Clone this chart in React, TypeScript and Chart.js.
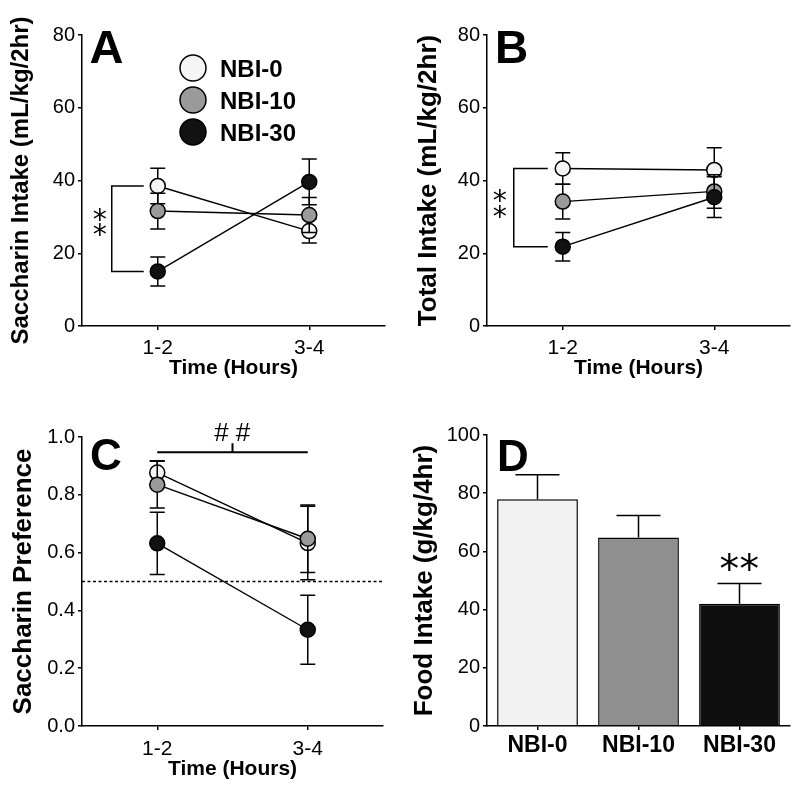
import React, { useEffect, useRef } from "react";
import { Chart, registerables } from "chart.js";

Chart.register(...registerables);

const FONT = "'Liberation Sans', Arial, Helvetica, sans-serif";
const STAR_FONT = "'DejaVu Sans', sans-serif";

// ---- categories / labels ----
const timeLabels = ["1-2", "3-4"];
const groupLabels = ["NBI-0", "NBI-10", "NBI-30"];
const markerFills = ["#f5f5f5", "#9a9a9a", "#121212"];
const barFills = ["#f2f2f2", "#8f8f8f", "#0f0f0f"];

// ---- tick labels ----
const intakeTicks = [0, 20, 40, 60, 80];
const preferenceTicks = [0, 0.2, 0.4, 0.6, 0.8, 1.0];
const foodTicks = [0, 20, 40, 60, 80, 100];

// ---- Panel A: Saccharin intake (mL/kg/2hr) ----
const saccharinNBI0 = [38.5, 26.1];
const saccharinNBI0Sem = [4.9, 3.3];
const saccharinNBI10 = [31.6, 30.5];
const saccharinNBI10Sem = [4.9, 4.8];
const saccharinNBI30 = [15.0, 39.6];
const saccharinNBI30Sem = [4.0, 6.3];

// ---- Panel B: Total intake (mL/kg/2hr) ----
const totalNBI0 = [43.3, 42.9];
const totalNBI0Sem = [4.3, 6.1];
const totalNBI10 = [34.2, 37.0];
const totalNBI10Sem = [4.8, 4.6];
const totalNBI30 = [21.8, 35.4];
const totalNBI30Sem = [3.9, 5.6];

// ---- Panel C: Saccharin preference ----
const prefNBI0 = [0.877, 0.633];
const prefNBI0Sem = [0.041, 0.127];
const prefNBI10 = [0.835, 0.648];
const prefNBI10Sem = [0.081, 0.117];
const prefNBI30 = [0.632, 0.333];
const prefNBI30Sem = [0.108, 0.119];
const chanceLevel = 0.5;
const timeEffectLevel = 0.947;

// ---- Panel D: Food intake (g/kg/4hr) ----
const foodMeans = [77.9, 64.8, 42.0];
const foodSem = [8.4, 7.5, 7.0];

Chart.defaults.color = "#000";
Chart.defaults.font.family = FONT;

const gridStyle = {
  display: true,
  drawOnChartArea: false,
  drawTicks: true,
  tickLength: 4,
  color: "#000",
  lineWidth: 1.5,
};
const borderStyle = { display: true, color: "#000", width: 1.5 };

function drawCentered(ctx: CanvasRenderingContext2D, text: string, font: string, cx: number, cy: number) {
  ctx.save();
  ctx.font = font;
  ctx.textAlign = "left";
  ctx.textBaseline = "alphabetic";
  const m = ctx.measureText(text);
  const w = m.actualBoundingBoxLeft + m.actualBoundingBoxRight;
  const h = m.actualBoundingBoxAscent + m.actualBoundingBoxDescent;
  ctx.fillStyle = "#000";
  ctx.fillText(text, cx - w / 2 + m.actualBoundingBoxLeft, cy - h / 2 + m.actualBoundingBoxAscent);
  ctx.restore();
}

function starFont(ctx: CanvasRenderingContext2D, targetWidth: number) {
  ctx.save();
  ctx.font = `100px ${STAR_FONT}`;
  const m = ctx.measureText("*");
  ctx.restore();
  const w = m.actualBoundingBoxLeft + m.actualBoundingBoxRight || 40;
  return `${(100 * targetWidth) / w}px ${STAR_FONT}`;
}

function drawErrorBars(chart: any, index: number, opts: any) {
  const ds = chart.data.datasets[index];
  const sem = ds.sem;
  if (!sem) return;
  const meta = chart.getDatasetMeta(index);
  const y = chart.scales.y;
  const ctx = chart.ctx;
  ctx.save();
  ctx.strokeStyle = "#000";
  ctx.lineWidth = 1.5;
  meta.data.forEach((el: any, i: number) => {
    const v = ds.data[i];
    const e = sem[i];
    const x = el.x;
    const top = y.getPixelForValue(v + e);
    const bottom = y.getPixelForValue(opts.upOnly ? v : v - e);
    ctx.beginPath();
    ctx.moveTo(x, top);
    ctx.lineTo(x, bottom);
    ctx.moveTo(x - opts.cap, top);
    ctx.lineTo(x + opts.cap, top);
    if (!opts.upOnly) {
      ctx.moveTo(x - opts.cap, bottom);
      ctx.lineTo(x + opts.cap, bottom);
    }
    ctx.stroke();
  });
  ctx.restore();
}

const errorBarPlugin = {
  id: "errorBars",
  beforeDatasetDraw(chart: any, args: any, opts: any) {
    if (!opts.upOnly) drawErrorBars(chart, args.index, opts);
  },
  afterDatasetDraw(chart: any, args: any, opts: any) {
    if (opts.upOnly) drawErrorBars(chart, args.index, opts);
  },
};

function lineDatasets(means: number[][], sems: number[][]) {
  return groupLabels.map((label, g) => ({
    label,
    data: means[g],
    sem: sems[g],
    borderColor: "#000",
    borderWidth: 1.4,
    backgroundColor: markerFills[g],
    pointBackgroundColor: markerFills[g],
    pointBorderColor: "#000",
    pointBorderWidth: 1.5,
    pointRadius: 7.5,
    pointHoverRadius: 7.5,
    tension: 0,
    fill: false,
    order: groupLabels.length - g,
  }));
}

function yScale(ticks: number[], title: string, titleSize: number, titlePad: number, width: number, decimals: number) {
  return {
    type: "linear",
    min: ticks[0],
    max: ticks[ticks.length - 1],
    afterBuildTicks: (s: any) => {
      s.ticks = ticks.map((value) => ({ value }));
    },
    afterFit: (s: any) => {
      s.width = width;
    },
    grid: gridStyle,
    border: borderStyle,
    ticks: {
      color: "#000",
      font: { family: FONT, size: 20 },
      padding: 3,
      callback: (v: any) => Number(v).toFixed(decimals),
    },
    title: {
      display: true,
      text: title,
      color: "#000",
      font: { family: FONT, size: titleSize, weight: "bold" },
      padding: { top: titlePad, bottom: 0 },
    },
  };
}

function xTimeScale(height: number, labelPad: number, titlePadBottom: number) {
  return {
    type: "category",
    offset: true,
    afterFit: (s: any) => {
      s.height = height;
    },
    grid: { ...gridStyle, offset: false },
    border: borderStyle,
    ticks: { color: "#000", font: { family: FONT, size: 21 }, padding: labelPad },
    title: {
      display: true,
      text: "Time (Hours)",
      color: "#000",
      font: { family: FONT, size: 21, weight: "bold" },
      padding: { top: 0, bottom: titlePadBottom },
    },
  };
}

function bracket(ctx: CanvasRenderingContext2D, xv: number, xEnd: number, y1: number, y2: number) {
  ctx.save();
  ctx.strokeStyle = "#000";
  ctx.lineWidth = 1.5;
  ctx.beginPath();
  ctx.moveTo(xEnd, y1);
  ctx.lineTo(xv, y1);
  ctx.lineTo(xv, y2);
  ctx.lineTo(xEnd, y2);
  ctx.stroke();
  ctx.restore();
}

function stackedStars(ctx: CanvasRenderingContext2D, x: number, yc: number, size: number, gap: number) {
  const f = starFont(ctx, size);
  drawCentered(ctx, "*", f, x, yc - gap / 2);
  drawCentered(ctx, "*", f, x, yc + gap / 2);
}

const baseOptions = (padding: any) => ({
  responsive: false,
  animation: false,
  devicePixelRatio: 1,
  layout: { padding },
  events: [],
});

function configA() {
  const annot = {
    id: "annotA",
    afterDatasetsDraw(chart: any) {
      const ctx = chart.ctx;
      const x = chart.scales.x;
      const y = chart.scales.y;
      drawCentered(ctx, "A", `bold 47px ${FONT}`, 106.5, 46.5);
      const cx = x.getPixelForValue(0);
      const yTop = y.getPixelForValue(saccharinNBI0[0]);
      const yBot = y.getPixelForValue(saccharinNBI30[0]);
      bracket(ctx, cx - 46, cx - 14, yTop, yBot);
      stackedStars(ctx, cx - 58, (yTop + yBot) / 2 - 6, 13, 14.5);
      // legend
      const lx = chart.chartArea.left + 111;
      const ly = chart.chartArea.top + 33;
      chart.data.datasets.forEach((ds: any, i: number) => {
        const cy = ly + i * 32;
        ctx.save();
        ctx.beginPath();
        ctx.arc(lx, cy, 13, 0, Math.PI * 2);
        ctx.fillStyle = ds.backgroundColor;
        ctx.fill();
        ctx.lineWidth = 1.5;
        ctx.strokeStyle = "#000";
        ctx.stroke();
        ctx.font = `bold 24px ${FONT}`;
        ctx.fillStyle = "#000";
        ctx.textBaseline = "alphabetic";
        ctx.textAlign = "left";
        ctx.fillText(ds.label, lx + 27, cy + 8.6);
        ctx.restore();
      });
    },
  };
  return {
    type: "line",
    data: {
      labels: timeLabels,
      datasets: lineDatasets(
        [saccharinNBI0, saccharinNBI10, saccharinNBI30],
        [saccharinNBI0Sem, saccharinNBI10Sem, saccharinNBI30Sem]
      ),
    },
    options: {
      ...baseOptions({ top: 35, right: 15, left: 0, bottom: 0 }),
      plugins: { legend: { display: false }, tooltip: { enabled: false }, errorBars: { cap: 7.5, upOnly: false } },
      scales: {
        x: xTimeScale(74, 6, 19),
        y: yScale(intakeTicks, "Saccharin Intake (mL/kg/2hr)", 24, 7, 82, 0),
      },
    },
    plugins: [errorBarPlugin, annot],
  };
}

function configB() {
  const annot = {
    id: "annotB",
    afterDatasetsDraw(chart: any) {
      const ctx = chart.ctx;
      const x = chart.scales.x;
      const y = chart.scales.y;
      drawCentered(ctx, "B", `bold 46px ${FONT}`, 112.5, 46.5);
      const cx = x.getPixelForValue(0);
      const yTop = y.getPixelForValue(totalNBI0[0]);
      const yBot = y.getPixelForValue(totalNBI30[0]);
      bracket(ctx, cx - 49, cx - 15, yTop, yBot);
      stackedStars(ctx, cx - 63, (yTop + yBot) / 2 - 4, 13, 16);
    },
  };
  return {
    type: "line",
    data: {
      labels: timeLabels,
      datasets: lineDatasets([totalNBI0, totalNBI10, totalNBI30], [totalNBI0Sem, totalNBI10Sem, totalNBI30Sem]),
    },
    options: {
      ...baseOptions({ top: 35, right: 10, left: 0, bottom: 0 }),
      plugins: { legend: { display: false }, tooltip: { enabled: false }, errorBars: { cap: 7.5, upOnly: false } },
      scales: {
        x: xTimeScale(74, 6, 19),
        y: yScale(intakeTicks, "Total Intake (mL/kg/2hr)", 26, 13, 87, 0),
      },
    },
    plugins: [errorBarPlugin, annot],
  };
}

function configC() {
  const annot = {
    id: "annotC",
    beforeDatasetsDraw(chart: any) {
      const ctx = chart.ctx;
      const y = chart.scales.y;
      const { left, right } = chart.chartArea;
      const yy = y.getPixelForValue(chanceLevel);
      ctx.save();
      ctx.strokeStyle = "#000";
      ctx.lineWidth = 1.5;
      ctx.setLineDash([3, 2.5]);
      ctx.beginPath();
      ctx.moveTo(left, yy);
      ctx.lineTo(right, yy);
      ctx.stroke();
      ctx.restore();
    },
    afterDatasetsDraw(chart: any) {
      const ctx = chart.ctx;
      const x = chart.scales.x;
      const y = chart.scales.y;
      drawCentered(ctx, "C", `bold 44px ${FONT}`, 106, 54);
      const x0 = x.getPixelForValue(0);
      const x1 = x.getPixelForValue(1);
      const yb = y.getPixelForValue(timeEffectLevel);
      const xm = (x0 + x1) / 2;
      ctx.save();
      ctx.strokeStyle = "#000";
      ctx.lineWidth = 2;
      ctx.beginPath();
      ctx.moveTo(x0, yb);
      ctx.lineTo(x1, yb);
      ctx.moveTo(xm, yb);
      ctx.lineTo(xm, yb - 9);
      ctx.stroke();
      ctx.restore();
      drawCentered(ctx, "# #", `26px ${FONT}`, xm, yb - 20);
    },
  };
  return {
    type: "line",
    data: {
      labels: timeLabels,
      datasets: lineDatasets([prefNBI0, prefNBI10, prefNBI30], [prefNBI0Sem, prefNBI10Sem, prefNBI30Sem]),
    },
    options: {
      ...baseOptions({ top: 37, right: 17, left: 0, bottom: 0 }),
      plugins: { legend: { display: false }, tooltip: { enabled: false }, errorBars: { cap: 7.5, upOnly: false } },
      scales: {
        x: xTimeScale(65, 7, 9),
        y: yScale(preferenceTicks, "Saccharin Preference", 26, 8, 82, 1),
      },
    },
    plugins: [errorBarPlugin, annot],
  };
}

function configD() {
  const annot = {
    id: "annotD",
    afterDatasetsDraw(chart: any) {
      const ctx = chart.ctx;
      const y = chart.scales.y;
      drawCentered(ctx, "D", `bold 44px ${FONT}`, 113, 55);
      const meta = chart.getDatasetMeta(0);
      const bar = meta.data[2];
      const capY = y.getPixelForValue(foodMeans[2] + foodSem[2]);
      const f = starFont(ctx, 18);
      drawCentered(ctx, "*", f, bar.x - 10, capY - 21);
      drawCentered(ctx, "*", f, bar.x + 10, capY - 21);
    },
  };
  return {
    type: "bar",
    data: {
      labels: groupLabels,
      datasets: [
        {
          label: "Food Intake",
          data: foodMeans,
          sem: foodSem,
          backgroundColor: barFills,
          borderColor: "#000",
          borderWidth: 1.5,
          barPercentage: 0.8,
          categoryPercentage: 1.0,
        },
      ],
    },
    options: {
      ...baseOptions({ top: 35, right: 10, left: 0, bottom: 0 }),
      plugins: { legend: { display: false }, tooltip: { enabled: false }, errorBars: { cap: 22, upOnly: true } },
      scales: {
        x: {
          type: "category",
          offset: true,
          afterFit: (s: any) => {
            s.height = 65;
          },
          grid: { ...gridStyle, offset: false },
          border: borderStyle,
          ticks: { color: "#000", font: { family: FONT, size: 23, weight: "bold" }, padding: 2 },
        },
        y: yScale(foodTicks, "Food Intake (g/kg/4hr)", 26, 9, 87, 0),
      },
    },
    plugins: [errorBarPlugin, annot],
  };
}

function Panel({ left, top, width, height, make }: { left: number; top: number; width: number; height: number; make: () => any }) {
  const ref = useRef<HTMLCanvasElement>(null);
  useEffect(() => {
    if (!ref.current) return;
    const chart = new Chart(ref.current, make());
    return () => chart.destroy();
  }, []);
  return (
    <div style={{ position: "absolute", left, top, width, height }}>
      <canvas ref={ref} width={width} height={height} style={{ width, height, display: "block" }} />
    </div>
  );
}

export default function App() {
  return (
    <div style={{ position: "absolute", left: 0, top: 0, width: 800, height: 791, background: "#fff" }}>
      <Panel left={0} top={0} width={400} height={400} make={configA} />
      <Panel left={400} top={0} width={400} height={400} make={configB} />
      <Panel left={0} top={400} width={400} height={391} make={configC} />
      <Panel left={400} top={400} width={400} height={391} make={configD} />
    </div>
  );
}
